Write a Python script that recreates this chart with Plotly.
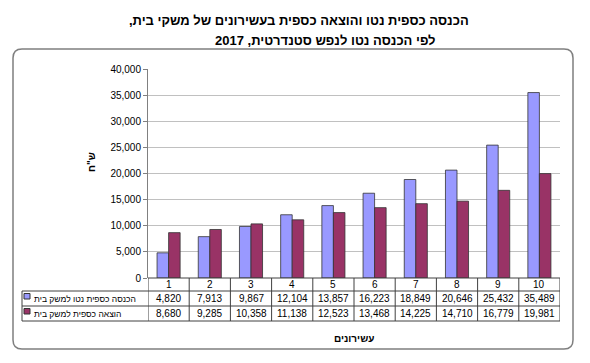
import plotly.graph_objects as go

# ---- data ----
deciles = [1, 2, 3, 4, 5, 6, 7, 8, 9, 10]
income = [4820, 7913, 9867, 12104, 13857, 16223, 18849, 20646, 25432, 35489]
expense = [8680, 9285, 10358, 11138, 12523, 13468, 14225, 14710, 16779, 19981]
series_names = ["הכנסה כספית נטו למשק בית", "הוצאה כספית למשק בית"]
title_lines = ["הכנסה כספית נטו והוצאה כספית בעשירונים של משקי בית,",
               "לפי הכנסה נטו לנפש סטנדרטית, 2017"]
y_title = 'ש"ח'
x_title = "עשירונים"
y_ticks = [0, 5000, 10000, 15000, 20000, 25000, 30000, 35000, 40000]

RLM = "\u200f"


def rtl(s):
    return RLM + s + RLM


# ---- layout geometry (reference-screen pixels) ----
OFF = 8  # page body margin offset of the figure div
W, H = 590 - OFF, 363 - OFF
PX0, PX1, PY_TOP, PY_BOT = 148, 560, 69, 278
FONT = "Liberation Sans, Arial, sans-serif"
C_BLUE = "#9999FF"
C_RED = "#993366"


def fx(px):
    return (px - PX0) / (PX1 - PX0)


def fy(py):
    return (PY_BOT - py) / (PY_BOT - PY_TOP)


fig = go.Figure()
fig.add_trace(go.Bar(x=deciles, y=income, name=series_names[0],
                     marker=dict(color=C_BLUE, line=dict(color="#333333", width=0.8))))
fig.add_trace(go.Bar(x=deciles, y=expense, name=series_names[1],
                     marker=dict(color=C_RED, line=dict(color="#333333", width=0.8))))

shapes = []
annotations = []

# outer rounded border
L, R, T, B, r = 13, 573, 49, 349, 9
path = (f"M {fx(L+r)},{fy(T)} L {fx(R-r)},{fy(T)} Q {fx(R)},{fy(T)} {fx(R)},{fy(T+r)} "
        f"L {fx(R)},{fy(B-r)} Q {fx(R)},{fy(B)} {fx(R-r)},{fy(B)} "
        f"L {fx(L+r)},{fy(B)} Q {fx(L)},{fy(B)} {fx(L)},{fy(B-r)} "
        f"L {fx(L)},{fy(T+r)} Q {fx(L)},{fy(T)} {fx(L+r)},{fy(T)} Z")
shapes.append(dict(type="path", xref="paper", yref="paper", path=path,
                   line=dict(color="#7f7f7f", width=1.5), layer="below"))

# data table
row_tops = [278, 291, 306, 321]
LEG_L = 22
line_style = dict(color="#404040", width=1)
shapes.append(dict(type="line", xref="paper", yref="paper", x0=fx(PX0), x1=fx(PX1),
                   y0=fy(row_tops[0]), y1=fy(row_tops[0]), line=line_style))
for py in row_tops[1:]:
    shapes.append(dict(type="line", xref="paper", yref="paper", x0=fx(LEG_L), x1=fx(PX1),
                       y0=fy(py), y1=fy(py), line=line_style))
for k in range(len(deciles) + 1):
    shapes.append(dict(type="line", xref="x", yref="paper", x0=0.5 + k, x1=0.5 + k,
                       y0=fy(row_tops[0]), y1=fy(row_tops[-1]), line=line_style))
shapes.append(dict(type="line", xref="paper", yref="paper", x0=fx(LEG_L), x1=fx(LEG_L),
                   y0=fy(row_tops[1]), y1=fy(row_tops[-1]), line=line_style))

cell_font = dict(family=FONT, size=10, color="#000000")


def cell(x, yc, text, xref="x"):
    return dict(x=x, y=fy(yc), xref=xref, yref="paper", text=text, showarrow=False,
                xanchor="center", yanchor="middle", font=cell_font)


for i, d in enumerate(deciles):
    annotations.append(cell(d, (row_tops[0] + row_tops[1]) / 2, str(d)))
    annotations.append(cell(d, (row_tops[1] + row_tops[2]) / 2, f"{income[i]:,}"))
    annotations.append(cell(d, (row_tops[2] + row_tops[3]) / 2, f"{expense[i]:,}"))

for j, (name, col) in enumerate(zip(series_names, [C_BLUE, C_RED])):
    yc = (row_tops[1 + j] + row_tops[2 + j]) / 2
    shapes.append(dict(type="rect", xref="paper", yref="paper",
                       x0=fx(24), x1=fx(30), y0=fy(yc + 0.5), y1=fy(yc - 5),
                       fillcolor=col, line=dict(color="#333333", width=1)))
    annotations.append(dict(x=fx(32), y=fy(yc), xref="paper", yref="paper", text=rtl(name),
                            showarrow=False, xanchor="left", yanchor="middle",
                            font=dict(family=FONT, size=8.5, color="#000000")))

bold = dict(family=FONT, color="#000000", weight="bold")
annotations.append(dict(x=fx(299), y=fy(20), xref="paper", yref="paper", text=rtl(title_lines[0]),
                        showarrow=False, xanchor="center", yanchor="middle", font=dict(size=13, **bold)))
annotations.append(dict(x=fx(325), y=fy(40), xref="paper", yref="paper", text=rtl(title_lines[1]),
                        showarrow=False, xanchor="center", yanchor="middle", font=dict(size=13, **bold)))
annotations.append(dict(x=fx(354), y=fy(338), xref="paper", yref="paper", text=rtl(x_title),
                        showarrow=False, xanchor="center", yanchor="middle", font=dict(size=10, **bold)))
annotations.append(dict(x=fx(91), y=fy(162), xref="paper", yref="paper", text=y_title,
                        textangle=-90, showarrow=False, xanchor="center", yanchor="middle",
                        font=dict(size=10, **bold)))

fig.update_layout(
    width=W, height=H, autosize=False,
    margin=dict(l=PX0 - OFF, r=W - (PX1 - OFF), t=PY_TOP - OFF, b=H - (PY_BOT - OFF), pad=0),
    paper_bgcolor="white", plot_bgcolor="white",
    showlegend=False,
    barmode="group", bargap=0.44, bargroupgap=0.0,
    font=dict(family=FONT, size=10, color="#000000"),
    shapes=shapes, annotations=annotations,
    xaxis=dict(range=[0.5, 10.5], showticklabels=False, ticks="", showgrid=False,
               showline=False, zeroline=False, fixedrange=True, automargin=False),
    yaxis=dict(range=[0, 40000], tickvals=y_ticks,
               ticktext=[f"{v:,}" for v in y_ticks],
               showgrid=True, gridcolor="#c0c0c0", gridwidth=1,
               showline=True, linecolor="#808080", linewidth=1,
               ticks="outside", ticklen=4, tickcolor="#808080",
               zeroline=False, fixedrange=True, automargin=False,
               tickfont=dict(family=FONT, size=10, color="#000000")),
)

fig.write_html("out.html")
